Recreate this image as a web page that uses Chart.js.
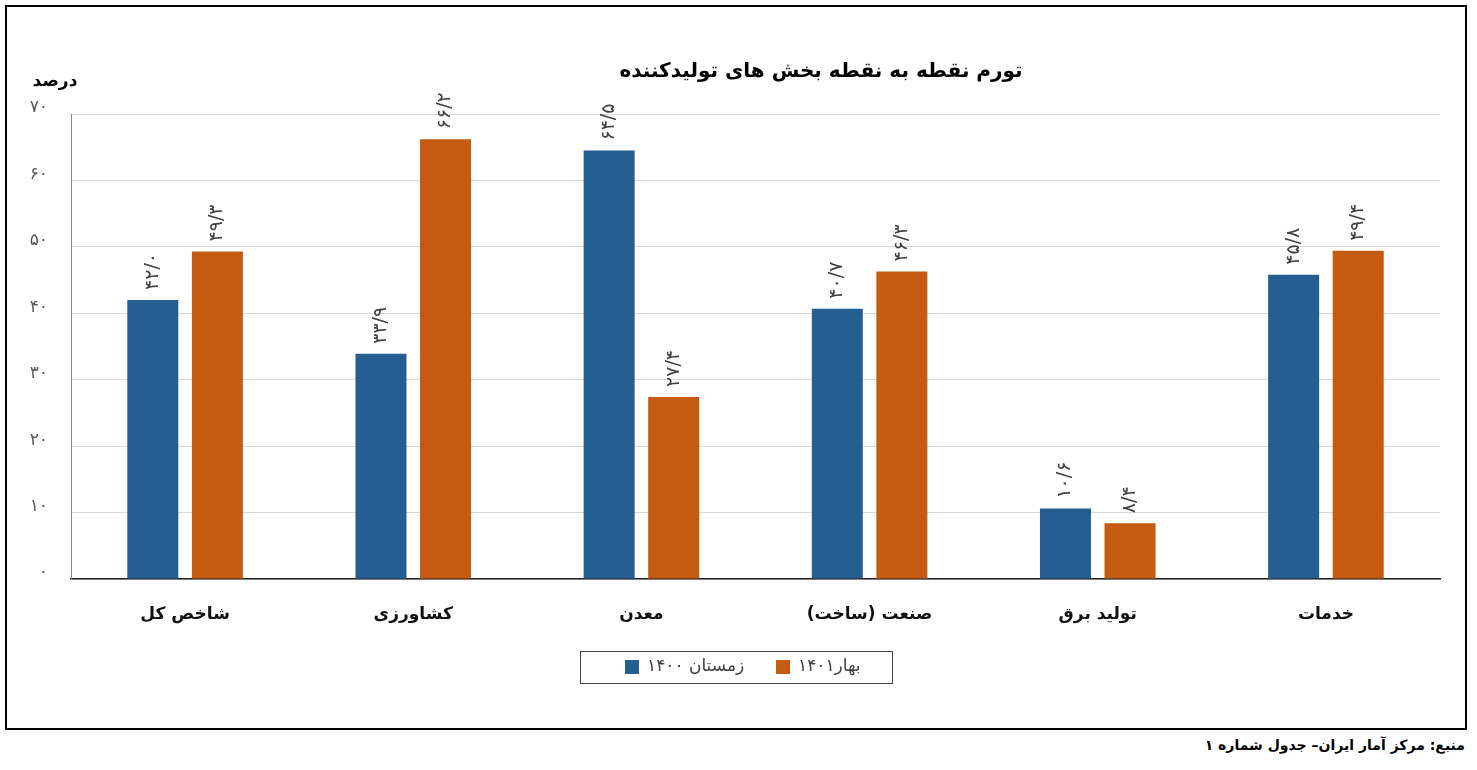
<!DOCTYPE html>
<html lang="fa">
<head>
<meta charset="utf-8">
<script src="https://cdn.jsdelivr.net/npm/chart.js@4/dist/chart.umd.min.js"></script>
<style>
  body { margin: 0; background: #fff; width: 1477px; height: 770px; overflow: hidden; position: relative; }
  #frame { position: absolute; left: 5px; top: 5px; width: 1458px; height: 721px; border: 2px solid #000; }
  #source { position: absolute; right: 12px; top: 737px; font: bold 14px "DejaVu Sans", sans-serif; color: #000; direction: rtl; }
</style>
</head>
<body>
<div id="frame"><canvas id="chart" width="1458" height="721"></canvas></div>
<div id="source">منبع: مرکز آمار ایران– جدول شماره ۱</div>
<script>
// داده‌ها
const categories = ['شاخص کل', 'کشاورزی', 'معدن', 'صنعت (ساخت)', 'تولید برق', 'خدمات'];
const winter1400 = [42.0, 33.9, 64.5, 40.7, 10.6, 45.8];
const spring1401 = [49.3, 66.2, 27.4, 46.3, 8.4, 49.4];
const seriesNames = ['زمستان ۱۴۰۰', 'بهار۱۴۰۱'];
const seriesColors = ['#255e91', '#c55a11'];
const yTicks = [0, 10, 20, 30, 40, 50, 60, 70];

const FONT = '"DejaVu Sans", sans-serif';

// تبدیل به ارقام فارسی
function fa(n) {
  return String(n).replace(/\d/g, d => '۰۱۲۳۴۵۶۷۸۹'[d]).replace('.', '/');
}

// برچسب مقادیر (عمودی)
const valueLabels = {
  id: 'valueLabels',
  afterDatasetsDraw(chart) {
    const ctx = chart.ctx;
    ctx.save();
    ctx.font = '19px ' + FONT;
    ctx.fillStyle = '#404040';
    ctx.textAlign = 'left';
    ctx.textBaseline = 'middle';
    chart.data.datasets.forEach((ds, di) => {
      chart.getDatasetMeta(di).data.forEach((bar, i) => {
        ctx.save();
        ctx.translate(bar.x, bar.y - 10);
        ctx.rotate(-Math.PI / 2);
        ctx.fillText(fa(ds.data[i].toFixed(1)), 0, 0);
        ctx.restore();
      });
    });
    ctx.restore();
  }
};

// عنوان، واحد و راهنما
const extras = {
  id: 'extras',
  afterDraw(chart) {
    const ctx = chart.ctx;
    ctx.save();
    ctx.direction = 'rtl';
    ctx.fillStyle = '#000';
    ctx.textBaseline = 'middle';
    ctx.textAlign = 'center';
    ctx.font = 'bold 20px ' + FONT;
    ctx.fillText('تورم نقطه به نقطه بخش های تولیدکننده', 814, 65);
    ctx.font = 'bold 17px ' + FONT;
    ctx.fillText('درصد', 48, 75);

    // legend box
    const cx = chart.width / 2, top = 644, h = 32, w = 312;
    ctx.strokeStyle = '#444';
    ctx.lineWidth = 1;
    ctx.strokeRect(cx - w / 2 + 0.5, top + 0.5, w, h);
    ctx.font = '17px ' + FONT;
    ctx.textAlign = 'left';
    ctx.direction = 'ltr';
    const items = [{ x: cx - w / 2 + 45 }, { x: cx - w / 2 + 196 }];
    items.forEach((it, i) => {
      ctx.fillStyle = seriesColors[i];
      ctx.fillRect(it.x, top + 9, 14, 14);
      ctx.fillStyle = '#404040';
      ctx.fillText(seriesNames[i], it.x + 22, top + 16);
    });
    ctx.restore();
  }
};

new Chart(document.getElementById('chart'), {
  type: 'bar',
  data: {
    labels: categories,
    datasets: [
      { label: seriesNames[0], data: winter1400, backgroundColor: seriesColors[0] },
      { label: seriesNames[1], data: spring1401, backgroundColor: seriesColors[1] }
    ]
  },
  options: {
    responsive: false,
    animation: false,
    categoryPercentage: 0.566,
    barPercentage: 0.79,
    layout: { padding: { top: 107, right: 25, left: 0, bottom: 0 } },
    plugins: { legend: { display: false }, title: { display: false }, tooltip: { enabled: false } },
    scales: {
      x: {
        grid: { display: false, drawTicks: false },
        border: { display: true, color: '#222', width: 1.5 },
        ticks: { padding: 25, color: '#111', font: { family: FONT, size: 17, weight: 'bold' } },
        afterFit(scale) { scale.height = 149; }
      },
      y: {
        min: 0, max: 70,
        afterBuildTicks(scale) { scale.ticks = yTicks.map(v => ({ value: v })); },
        grid: { color: '#d9d9d9', drawTicks: false },
        border: { display: true, color: '#888', width: 1 },
        ticks: { padding: 23, labelOffset: -6, color: '#595959', font: { family: FONT, size: 17 }, callback: v => fa(v) },
        afterFit(scale) { scale.width = 64; }
      }
    }
  },
  plugins: [valueLabels, extras]
});
</script>
</body>
</html>
